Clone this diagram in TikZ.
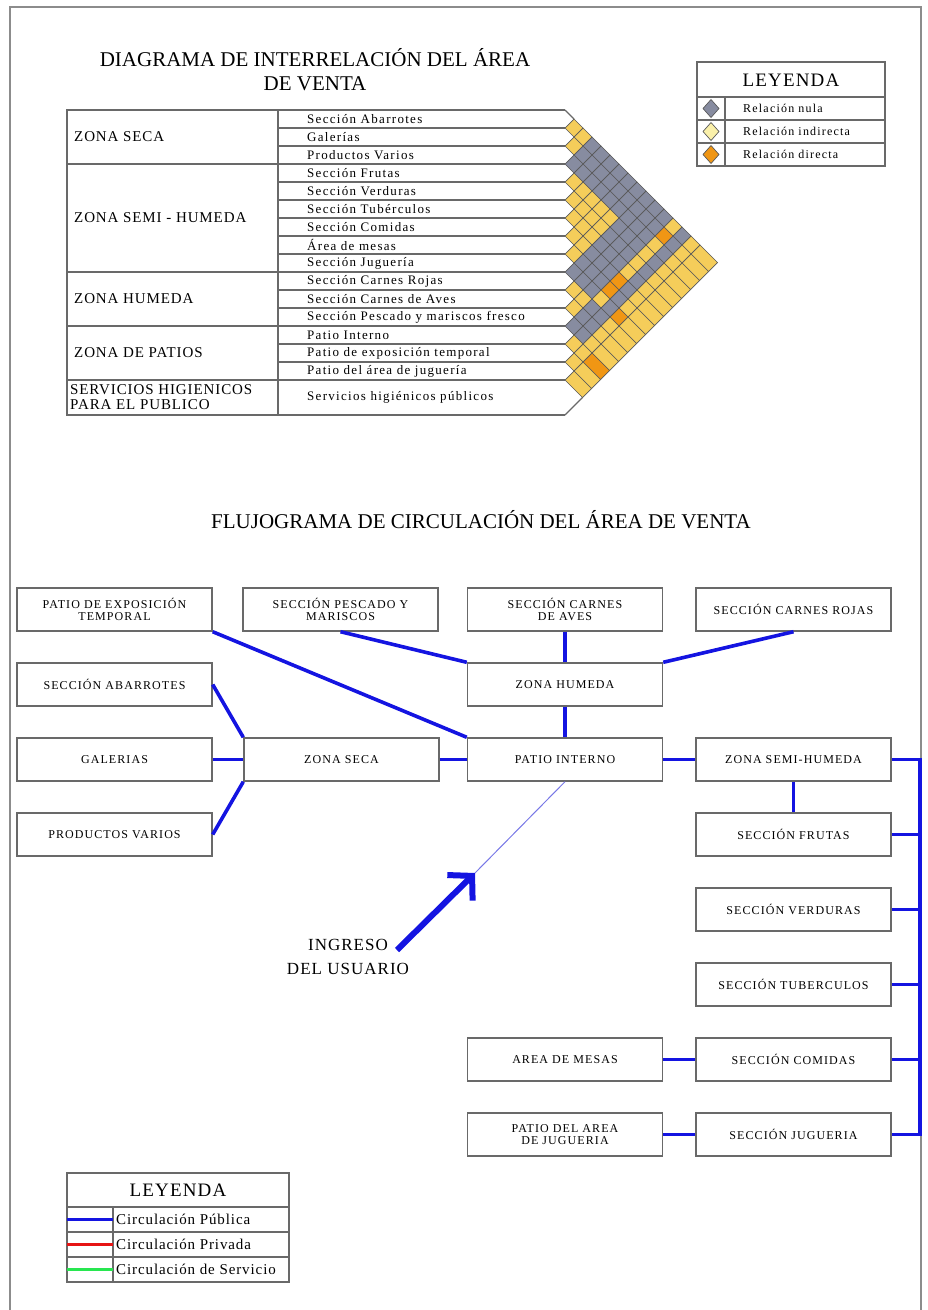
\documentclass[tikz,border=0pt]{standalone}
\usepackage{fontspec}
\setmainfont{Liberation Serif}
\newfontfamily\tabfont[LetterSpace=10]{Liberation Serif}
\newfontfamily\boxfont[LetterSpace=9]{Liberation Serif}
\newfontfamily\bigfont[LetterSpace=6]{Liberation Serif}
\usetikzlibrary{arrows.meta}

\definecolor{flowblue}{RGB}{20,20,225}
\definecolor{thinblue}{RGB}{120,120,230}
\definecolor{boxgray}{RGB}{105,105,105}
\definecolor{framegray}{RGB}{140,140,140}
\definecolor{relN}{RGB}{135,140,160}
\definecolor{relY}{RGB}{245,205,90}
\definecolor{relO}{RGB}{240,150,20}
\definecolor{relpale}{RGB}{250,240,170}
\definecolor{legred}{RGB}{230,20,20}
\definecolor{leggreen}{RGB}{40,230,80}

\begin{document}
\begin{tikzpicture}[x=1pt,y=-1pt,
  flowbox/.style={draw=boxgray, line width=1.4pt, minimum width=195pt, minimum height=43pt,
    inner sep=1pt, align=center, font=\boxfont\fontsize{12}{12.5}\selectfont},
  flow/.style={flowblue, line width=3.6pt},
  tabline/.style={draw=boxgray, line width=1.1pt},
  relcell/.style={draw=black!65, line width=0.7pt},
  tabtext/.style={anchor=west, inner sep=0pt, font=\tabfont\fontsize{13}{14}\selectfont},
  zonetext/.style={anchor=west, inner sep=0pt, align=left, font=\bigfont\fontsize{15}{15}\selectfont},
  titletext/.style={inner sep=0pt, align=center, font=\fontsize{21}{24}\selectfont}]
\useasboundingbox (0,0) rectangle (927,1310);

% page frame
\draw[framegray, line width=2pt] (10,1310) -- (10,7) -- (921,7) -- (921,1310);

% ---------------- interrelation diagram ----------------
\node[titletext] (titulo1) at (315,70) {DIAGRAMA DE INTERRELACIÓN DEL ÁREA\\DE VENTA};

% table frame
\draw[tabline] (565,110) -- (67,110) -- (67,415) -- (565,415);
\draw[tabline] (278,110) -- (278,415);
\foreach \y in {164,272,326,380} \draw[tabline] (67,\y) -- (565,\y);
\foreach \k in {1,...,14} \draw[tabline] (278,110+18*\k) -- (565,110+18*\k);
\draw[tabline] (565,110) -- (574,119);
\draw[tabline] (565,415) -- (582.5,397.5);

% zones
\node[zonetext] (zseca) at (74,137) {ZONA SECA};
\node[zonetext] (zsemi) at (74,218) {ZONA SEMI - HUMEDA};
\node[zonetext] (zhum) at (74,299) {ZONA HUMEDA};
\node[zonetext] (zpat) at (74,353) {ZONA DE PATIOS};
\node[zonetext] (zserv) at (70,397.5) {SERVICIOS HIGIENICOS\\PARA EL PUBLICO};

% areas
\foreach \k/\txt in {1/Sección Abarrotes,2/Galerías,3/Productos Varios,4/Sección Frutas,
  5/Sección Verduras,6/Sección Tubérculos,7/Sección Comidas,8/Área de mesas,
  9/Sección Juguería,10/Sección Carnes Rojas,11/Sección Carnes de Aves,
  12/Sección Pescado y mariscos fresco,13/Patio Interno,14/Patio de exposición temporal,
  15/Patio del área de juguería}
  \node[tabtext] (area\k) at (307,101+18*\k) {\txt};
\node[tabtext] (area16) at (307,397.5) {Servicios higiénicos públicos};

% relation cells (N nula, Y indirecta, O directa)
\foreach \i/\codes in {
  1/{Y,Y,N,N,N,N,N,N,N,N,N,Y,N,Y,Y},
  2/{Y,N,N,N,N,N,N,N,N,N,O,N,Y,Y},
  3/{N,N,N,N,N,N,N,N,N,Y,N,Y,Y},
  4/{Y,Y,Y,Y,Y,N,N,N,Y,N,Y,Y},
  5/{Y,Y,Y,Y,N,N,N,Y,N,Y,Y},
  6/{Y,Y,Y,N,N,N,Y,N,Y,Y},
  7/{Y,Y,N,N,N,O,N,Y,Y},
  8/{Y,N,N,N,O,N,Y,Y},
  9/{N,N,N,Y,N,O,Y},
  10/{Y,Y,N,N,Y,Y},
  11/{Y,N,N,Y,Y},
  12/{N,N,Y,Y},
  13/{Y,Y,O},
  14/{Y,Y},
  15/{Y}}{
  \foreach \c [count=\k] in \codes {
    \pgfmathtruncatemacro\j{\i+\k}
    \pgfmathsetmacro\ta{92+18*\i}
    \pgfmathsetmacro\ba{\ta+18}
    \pgfmathsetmacro\tb{\j<16 ? 92+18*\j : 380}
    \pgfmathsetmacro\bb{\j<16 ? \tb+18 : 415}
    \draw[relcell, fill=rel\c] ({565+(\tb-\ta)/2},{(\ta+\tb)/2}) -- ({565+(\bb-\ta)/2},{(\ta+\bb)/2})
      -- ({565+(\bb-\ba)/2},{(\ba+\bb)/2}) -- ({565+(\tb-\ba)/2},{(\ba+\tb)/2}) -- cycle;
  }
}

% legend (relations)
\draw[tabline] (697,62) rectangle (885,166);
\draw[tabline] (697,97) -- (885,97);
\draw[tabline] (697,120) -- (885,120);
\draw[tabline] (697,143) -- (885,143);
\draw[tabline] (725,97) -- (725,166);
\node[titletext, font=\bigfont\fontsize{19}{20}\selectfont] (leyenda1) at (791,80) {LEYENDA};
\foreach \y/\col/\txt in {108.5/relN/Relación nula,131.5/relpale/Relación indirecta,154.5/relO/Relación directa}{
  \draw[relcell, fill=\col] (711,\y) +(0,-9) -- +(8,0) -- +(0,9) -- +(-8,0) -- cycle;
  \node[tabtext, font=\tabfont\fontsize{12}{12}\selectfont] at (743,\y) {\txt};
}

% ---------------- circulation flowchart ----------------
\node[titletext] (titulo2) at (481,520) {FLUJOGRAMA DE CIRCULACIÓN DEL ÁREA DE VENTA};

\node[flowbox] (patioexp) at (114.5,609.5) {PATIO DE EXPOSICIÓN\\TEMPORAL};
\node[flowbox] (pescado) at (340.5,609.5) {SECCIÓN PESCADO Y\\MARISCOS};
\node[flowbox] (aves) at (565,609.5) {SECCIÓN CARNES\\DE AVES};
\node[flowbox] (rojas) at (793.5,609.5) {SECCIÓN CARNES ROJAS};
\node[flowbox] (abarrotes) at (114.5,684.5) {SECCIÓN ABARROTES};
\node[flowbox] (humeda) at (565,684.5) {ZONA HUMEDA};
\node[flowbox] (galerias) at (114.5,759.5) {GALERIAS};
\node[flowbox] (seca) at (341.5,759.5) {ZONA SECA};
\node[flowbox] (interno) at (565,759.5) {PATIO INTERNO};
\node[flowbox] (semihum) at (793.5,759.5) {ZONA SEMI-HUMEDA};
\node[flowbox] (productos) at (114.5,834.5) {PRODUCTOS VARIOS};
\node[flowbox] (frutas) at (793.5,834.5) {SECCIÓN FRUTAS};
\node[flowbox] (verduras) at (793.5,909.5) {SECCIÓN VERDURAS};
\node[flowbox] (tuberc) at (793.5,984.5) {SECCIÓN TUBERCULOS};
\node[flowbox] (mesas) at (565,1059.5) {AREA DE MESAS};
\node[flowbox] (comidas) at (793.5,1059.5) {SECCIÓN COMIDAS};
\node[flowbox] (patiojug) at (565,1134.5) {PATIO DEL AREA\\DE JUGUERIA};
\node[flowbox] (jugueria) at (793.5,1134.5) {SECCIÓN JUGUERIA};

% public circulation
\draw[flow] (patioexp.south east) -- (interno.north west);
\draw[flow] (pescado.south) -- (humeda.north west);
\draw[flow] (aves) -- (humeda);
\draw[flow] (rojas.south) -- (humeda.north east);
\draw[flow] (humeda) -- (interno);
\draw[flow] (abarrotes.east) -- (seca.north west);
\draw[flow] (galerias) -- (seca);
\draw[flow] (productos.east) -- (seca.south west);
\draw[flow] (seca) -- (interno);
\draw[flow] (interno) -- (semihum);
\draw[flow] (semihum) -- (frutas);
\draw[flow] (mesas) -- (comidas);
\draw[flow] (patiojug) -- (jugueria);

\coordinate (bustop) at (920,759.5);
\coordinate (busbot) at (920,1134.5);
\draw[flow] (semihum.east) -- (bustop) -- (busbot) -- (jugueria.east);
\foreach \n in {frutas,verduras,tuberc,comidas}
  \draw[flow] (\n.east) -- (\n.east -| bustop);

% user entrance
\coordinate (ingtip) at (475,873);
\coordinate (ingtail) at (397,950);
\draw[thinblue, line width=1pt] (interno.south) -- (ingtip);
\draw[flowblue, line width=6pt, -{Straight Barb[length=17pt,width=36pt]}] (ingtail) -- (ingtip);
\node[titletext, font=\bigfont\fontsize{17}{24}\selectfont] (ingreso) at (348,957) {INGRESO\\DEL USUARIO};

% legend (circulation)
\draw[tabline] (67,1173) rectangle (289,1282);
\draw[tabline] (67,1207) -- (289,1207);
\draw[tabline] (67,1232) -- (289,1232);
\draw[tabline] (67,1257) -- (289,1257);
\draw[tabline] (113,1207) -- (113,1282);
\node[titletext, font=\bigfont\fontsize{19}{20}\selectfont] (leyenda2) at (178,1190) {LEYENDA};
\foreach \y/\col/\txt in {1219.5/flowblue/Circulación Pública,1244.5/legred/Circulación Privada,1269.5/leggreen/Circulación de Servicio}{
  \draw[\col, line width=3.2pt] (67,\y) -- (113,\y);
  \node[tabtext, font=\bigfont\fontsize{15}{15}\selectfont] at (116,\y) {\txt};
}
\end{tikzpicture}
\end{document}
